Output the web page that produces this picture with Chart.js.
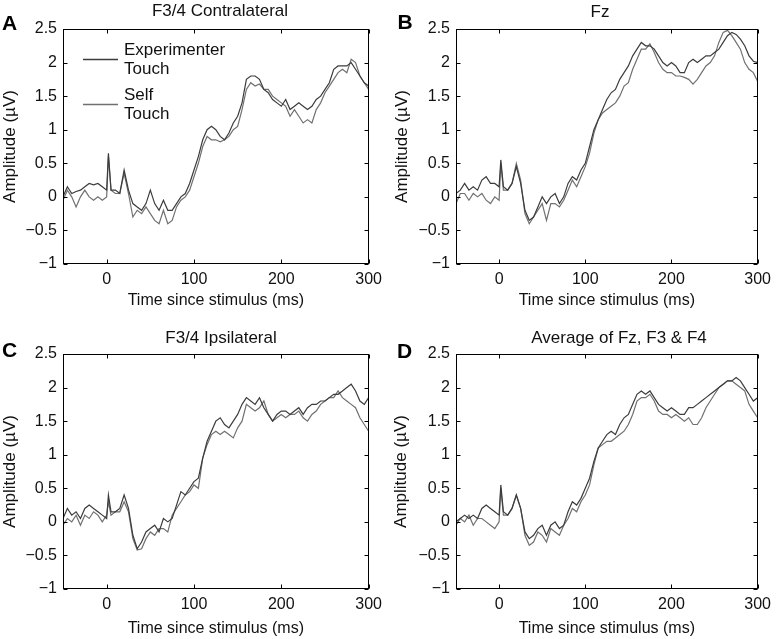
<!DOCTYPE html>
<html>
<head>
<meta charset="utf-8">
<script src="https://cdn.jsdelivr.net/npm/chart.js@4"></script>
<style>
  html, body { margin: 0; padding: 0; background: #fff; }
  body { width: 777px; height: 639px; overflow: hidden; position: relative; }
  canvas { position: absolute; }
</style>
</head>
<body>
<canvas id="cA"></canvas>
<canvas id="cB"></canvas>
<canvas id="cC"></canvas>
<canvas id="cD"></canvas>
<script>
// ---------- DATA ----------
const times = [-50,-45,-40,-35,-30,-25,-20,-15,-10,-5,0,2,5,10,15,20,25,30,35,40,45,50,55,60,65,70,75,80,85,90,95,100,105,110,115,120,125,130,135,140,145,150,155,160,165,170,175,180,185,190,195,200,205,210,215,220,225,230,235,240,245,250,255,260,265,270,275,280,285,290,295,300];
const seriesNames = ['Experimenter Touch', 'Self Touch'];
const panelTitles = ['F3/4 Contralateral', 'Fz', 'F3/4 Ipsilateral', 'Average of Fz, F3 & F4'];
const panelLetters = ['A', 'B', 'C', 'D'];
const xTicks = [0, 100, 200, 300];
const yTicks = [-1, -0.5, 0, 0.5, 1, 1.5, 2, 2.5];
const xTitle = 'Time since stimulus (ms)';
const yTitle = 'Amplitude (\u00b5V)';

const expA = [0.0,0.15,0.05,0.08,0.1,0.15,0.2,0.18,0.2,0.15,0.1, 0.65,
  0.1,0.1,0.05,0.4,0.1,-0.1,-0.15,-0.2,-0.1,0.1,-0.1,-0.2,-0.05,-0.2,-0.2,-0.1,0.0,0.05,0.2,0.4,0.6,0.85,1.0,1.05,1.0,0.9,0.85,0.95,1.1,1.2,1.4,1.75,1.8,1.8,1.75,1.6,1.55,1.45,1.4,1.35,1.45,1.3,1.35,1.4,1.35,1.3,1.35,1.45,1.5,1.6,1.7,1.9,1.95,1.95,1.95,2.0,1.9,1.8,1.7,1.65];
const selfA = [-0.05,0.1,0.0,-0.15,0.0,0.1,0.0,-0.05,0.0,-0.05,0.0, 0.6,
  0.1,0.05,0.05,0.35,0.05,-0.3,-0.2,-0.25,-0.15,-0.25,-0.35,-0.4,-0.2,-0.4,-0.35,-0.15,-0.05,0.0,0.1,0.3,0.5,0.75,0.9,0.85,0.85,0.82,0.85,0.9,1.0,1.05,1.3,1.6,1.7,1.65,1.68,1.6,1.6,1.5,1.45,1.4,1.35,1.2,1.3,1.2,1.1,1.15,1.1,1.3,1.4,1.55,1.65,1.75,1.85,1.9,1.85,2.05,2.0,1.8,1.7,1.6];

const expB = [0.05,0.1,0.2,0.1,0.15,0.1,0.25,0.3,0.2,0.2,0.15, 0.55,
  0.15,0.1,0.2,0.45,0.2,-0.2,-0.35,-0.3,-0.15,0.0,-0.1,0.0,0.05,-0.1,0.0,0.2,0.3,0.25,0.4,0.5,0.75,1.0,1.15,1.3,1.45,1.55,1.6,1.75,1.85,1.95,2.1,2.2,2.3,2.25,2.25,2.2,2.1,2.0,1.95,2.0,1.95,1.85,1.85,2.0,2.05,2.0,2.05,2.1,2.1,2.15,2.2,2.3,2.4,2.45,2.42,2.35,2.25,2.1,2.02,2.0];
const selfB = [-0.1,0.05,0.05,-0.05,0.05,0.0,0.05,-0.05,-0.1,0.0,-0.05, 0.5,
  0.1,0.1,0.2,0.5,0.25,-0.25,-0.4,-0.3,-0.2,-0.1,-0.35,-0.1,-0.1,-0.15,-0.05,0.1,0.25,0.15,0.3,0.45,0.65,0.95,1.15,1.25,1.3,1.35,1.4,1.5,1.65,1.7,1.9,2.05,2.2,2.2,2.28,2.15,2.0,1.9,1.85,1.85,1.8,1.8,1.78,1.75,1.68,1.75,1.85,1.95,2.0,2.1,2.3,2.45,2.48,2.4,2.3,2.2,2.0,1.9,1.85,1.72];

const expC = [0.05,0.2,0.1,0.15,0.05,0.2,0.25,0.2,0.15,0.1,0.05, 0.4,
  0.15,0.15,0.2,0.4,0.2,-0.2,-0.4,-0.3,-0.15,-0.1,-0.05,-0.15,0.05,0.0,0.05,0.25,0.45,0.4,0.5,0.6,0.65,0.95,1.2,1.35,1.5,1.55,1.45,1.4,1.5,1.6,1.75,1.85,1.8,1.75,1.85,1.7,1.6,1.5,1.6,1.65,1.65,1.6,1.65,1.7,1.6,1.7,1.75,1.75,1.8,1.8,1.85,1.9,1.9,1.95,2.0,2.05,1.95,1.8,1.75,1.85];
const selfC = [-0.05,0.05,0.0,0.1,-0.05,0.1,0.05,0.15,0.1,0.0,0.1, 0.3,
  0.1,0.15,0.15,0.3,0.15,-0.25,-0.42,-0.4,-0.25,-0.15,-0.2,-0.1,-0.1,-0.15,0.1,0.2,0.3,0.4,0.45,0.55,0.5,0.95,1.15,1.3,1.35,1.3,1.35,1.3,1.25,1.4,1.5,1.75,1.7,1.65,1.7,1.8,1.6,1.5,1.55,1.6,1.55,1.6,1.6,1.65,1.55,1.5,1.6,1.65,1.75,1.8,1.85,1.85,1.95,1.85,1.8,1.75,1.7,1.55,1.45,1.35];

const expD = [0.0,0.05,0.1,0.05,0.1,0.05,0.2,0.25,0.2,0.15,0.1, 0.55,
  0.15,0.1,0.2,0.4,0.2,-0.15,-0.25,-0.2,-0.1,-0.05,-0.2,-0.05,0.0,-0.1,-0.05,0.15,0.3,0.25,0.35,0.5,0.65,0.9,1.1,1.2,1.3,1.35,1.3,1.45,1.55,1.6,1.75,1.9,1.95,1.9,1.95,1.85,1.75,1.7,1.65,1.7,1.65,1.6,1.6,1.7,1.7,1.75,1.8,1.85,1.9,1.95,2.0,2.05,2.1,2.1,2.15,2.1,2.0,1.9,1.8,1.85];
const selfD = [-0.05,0.05,0.0,0.1,-0.05,0.05,0.05,0.0,-0.05,-0.1,0.0, 0.5,
  0.1,0.1,0.2,0.4,0.2,-0.2,-0.35,-0.3,-0.15,-0.2,-0.3,-0.1,-0.15,-0.2,-0.05,0.05,0.2,0.15,0.3,0.4,0.55,0.85,1.1,1.15,1.2,1.2,1.25,1.3,1.35,1.45,1.6,1.8,1.85,1.85,1.9,1.8,1.65,1.6,1.6,1.55,1.6,1.55,1.5,1.55,1.45,1.45,1.55,1.7,1.8,1.9,2.0,2.05,2.1,2.1,2.05,2.0,1.95,1.75,1.65,1.55];

// ---------- STYLE ----------
const FONT = '"Liberation Sans", Arial, Helvetica, sans-serif';
const textColor = '#111';
const expColor = '#3c3c3c';
const selfColor = '#707070';

const fmt = v => (v < 0 ? '\u2212' + Math.abs(v) : String(v));

const decor = {
  id: 'decor',
  afterDraw(chart, args, o) {
    const { ctx, chartArea: a, scales: { x, y } } = chart;
    ctx.save();
    // box
    ctx.strokeStyle = '#000';
    ctx.lineWidth = 1;
    const L = Math.round(a.left) + 0.5, T = Math.round(a.top) + 0.5;
    const R = Math.round(a.right) - 0.5, B = Math.round(a.bottom) - 0.5;
    ctx.strokeRect(L, T, R - L, B - T);
    // inward ticks on all sides
    const tl = 4;
    ctx.beginPath();
    x.ticks.forEach(t => {
      const px = Math.round(x.getPixelForValue(t.value)) + 0.5;
      ctx.moveTo(px, B); ctx.lineTo(px, B - tl);
      ctx.moveTo(px, T); ctx.lineTo(px, T + tl);
    });
    y.ticks.forEach(t => {
      const py = Math.round(y.getPixelForValue(t.value)) + 0.5;
      ctx.moveTo(L, py); ctx.lineTo(L + tl, py);
      ctx.moveTo(R, py); ctx.lineTo(R - tl, py);
    });
    ctx.stroke();
    // title
    ctx.fillStyle = textColor;
    ctx.font = '17px ' + FONT;
    ctx.textAlign = 'center';
    ctx.textBaseline = 'alphabetic';
    ctx.fillText(o.title, o.titleX, o.titleY);
    // panel letter
    ctx.font = 'bold 21px ' + FONT;
    ctx.textAlign = 'left';
    ctx.fillStyle = '#000';
    ctx.fillText(o.letter, o.letterX, o.letterY);
    // legend (panel A only)
    if (o.legend) {
      ctx.font = '17px ' + FONT;
      ctx.textAlign = 'left';
      chart.data.datasets.forEach((ds, i) => {
        const base = a.top + 26 + i * 45;
        const words = ds.label.split(' ');
        ctx.fillStyle = textColor;
        words.forEach((w, j) => ctx.fillText(w, a.left + 61, base + j * 18.5));
        ctx.strokeStyle = ds.borderColor;
        ctx.lineWidth = 1.5;
        ctx.beginPath();
        const ly = Math.round(base + 4) + 0.5;
        ctx.moveTo(a.left + 20, ly);
        ctx.lineTo(a.left + 55, ly);
        ctx.stroke();
      });
    }
    ctx.restore();
  }
};

function makePanel(p) {
  const cv = document.getElementById(p.id);
  cv.width = p.w; cv.height = p.h;
  cv.style.left = p.left + 'px';
  cv.style.top = p.top + 'px';
  cv.style.width = p.w + 'px';
  cv.style.height = p.h + 'px';
  const mk = arr => times.map((t, i) => ({ x: t, y: arr[i] }));
  return new Chart(cv, {
    type: 'line',
    data: {
      datasets: [
        { label: seriesNames[0], data: mk(p.exp), borderColor: expColor, borderWidth: 1.2, pointRadius: 0, tension: 0, fill: false },
        { label: seriesNames[1], data: mk(p.self), borderColor: selfColor, borderWidth: 1.2, pointRadius: 0, tension: 0, fill: false }
      ]
    },
    options: {
      responsive: false,
      animation: false,
      devicePixelRatio: 1,
      layout: { padding: { left: 0, top: p.area.top, right: p.w - p.area.right, bottom: 0 } },
      plugins: {
        legend: { display: false },
        tooltip: { enabled: false },
        title: { display: false },
        decor: {
          title: p.title, titleX: p.titleX - p.left, titleY: p.titleY - p.top,
          letter: p.letter, letterX: p.letterX - p.left, letterY: p.letterY - p.top,
          legend: !!p.legend
        }
      },
      scales: {
        x: {
          type: 'linear', min: -50, max: 300,
          afterBuildTicks: s => { s.ticks = xTicks.map(v => ({ value: v })); },
          afterFit: s => { s.height = p.h - p.area.bottom; },
          grid: { display: false, drawTicks: false },
          border: { display: false },
          ticks: { color: textColor, font: { family: FONT, size: 16 }, padding: 6, maxRotation: 0, autoSkip: false, callback: fmt },
          title: { display: true, text: xTitle, color: textColor, font: { family: FONT, size: 16 }, padding: { top: 0, bottom: p.xTitlePad } }
        },
        y: {
          type: 'linear', min: -1, max: 2.5,
          afterBuildTicks: s => { s.ticks = yTicks.map(v => ({ value: v })); },
          afterFit: s => { s.width = p.area.left; },
          grid: { display: false, drawTicks: false },
          border: { display: false },
          ticks: { color: textColor, font: { family: FONT, size: 16 }, padding: 6, autoSkip: false, callback: fmt },
          title: { display: true, text: yTitle, color: textColor, font: { family: FONT, size: 17 }, padding: { top: p.yTitlePad, bottom: 0 } }
        }
      }
    },
    plugins: [decor]
  });
}

makePanel({ id: 'cA', left: 0, top: 0, w: 388, h: 319, area: { left: 63, top: 29, right: 370, bottom: 264 },
  exp: expA, self: selfA, title: panelTitles[0], titleX: 220, titleY: 16,
  letter: panelLetters[0], letterX: 2, letterY: 30, xTitlePad: 9, yTitlePad: 0, legend: true });
makePanel({ id: 'cB', left: 390, top: 0, w: 387, h: 319, area: { left: 66, top: 29, right: 372, bottom: 264 },
  exp: expB, self: selfB, title: panelTitles[1], titleX: 600, titleY: 16.5,
  letter: panelLetters[1], letterX: 397.5, letterY: 29, xTitlePad: 9, yTitlePad: 2 });
makePanel({ id: 'cC', left: 0, top: 319, w: 388, h: 320, area: { left: 63, top: 35, right: 370, bottom: 270 },
  exp: expC, self: selfC, title: panelTitles[2], titleX: 221, titleY: 342.5,
  letter: panelLetters[2], letterX: 2, letterY: 357, xTitlePad: 1, yTitlePad: 0 });
makePanel({ id: 'cD', left: 390, top: 319, w: 387, h: 320, area: { left: 66, top: 35, right: 372, bottom: 270 },
  exp: expD, self: selfD, title: panelTitles[3], titleX: 619, titleY: 342.5,
  letter: panelLetters[3], letterX: 397, letterY: 358, xTitlePad: 1, yTitlePad: 1.5 });
</script>
</body>
</html>
